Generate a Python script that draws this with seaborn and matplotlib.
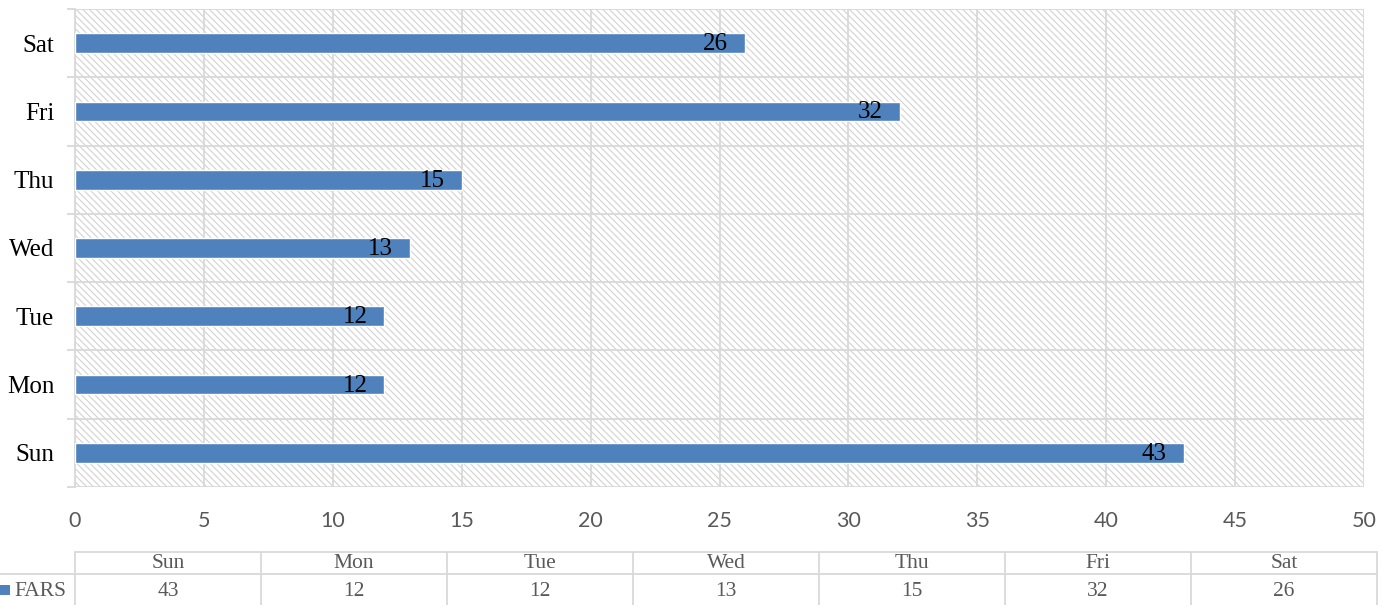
import matplotlib
matplotlib.use("Agg")
import matplotlib.pyplot as plt
from matplotlib.patches import Rectangle
from matplotlib.ticker import FixedLocator
import seaborn as sns
import pandas as pd

# data
days = ["Sun", "Mon", "Tue", "Wed", "Thu", "Fri", "Sat"]
fars = [43, 12, 12, 13, 15, 32, 26]
series_name = "FARS"
x_ticks = [0, 5, 10, 15, 20, 25, 30, 35, 40, 45, 50]

W, H = 1395, 605
bar_color = "#4F81BD"
grid_color = "#D9D9D9"

sns.set_style("white")
plt.rcParams["font.family"] = ["Liberation Serif", "DejaVu Serif"]
plt.rcParams["hatch.linewidth"] = 0.8

df = pd.DataFrame({"day": days, "count": fars})

fig = plt.figure(figsize=(W / 100, H / 100), dpi=100)
ax = fig.add_axes([75 / W, 1 - 487 / H, (1364 - 75) / W, (487 - 9) / H])

# hatched plot area background
bg = Rectangle((0, 0), 1, 1, transform=ax.transAxes, facecolor="white",
               edgecolor="#D2D2D2", hatch="\\" * 5, linewidth=0, zorder=0.1)
ax.add_patch(bg)

sns.barplot(data=df, x="count", y="day", order=days[::-1], orient="h",
            color=bar_color, width=0.29, saturation=1, ax=ax, zorder=3)

ax.set_xlim(0, 50)
ax.set_ylim(6.5, -0.5)
ax.set_xlabel("")
ax.set_ylabel("")

# gridlines
ax.set_xticks(x_ticks)
ax.yaxis.set_minor_locator(FixedLocator([i - 0.5 for i in range(len(days) + 1)]))
ax.grid(axis="x", which="major", color=grid_color, linewidth=1.3, zorder=1)
ax.grid(axis="y", which="minor", color=grid_color, linewidth=1.3, zorder=1)
ax.grid(axis="y", which="major", visible=False)
ax.set_axisbelow(True)
for s in ["top", "right", "bottom"]:
    ax.spines[s].set_visible(False)
ax.spines["left"].set_color(grid_color)
ax.spines["left"].set_linewidth(1.3)

ax.tick_params(axis="x", length=0, pad=17, labelsize=15.5, labelcolor="#595959")
for lab in ax.get_xticklabels():
    lab.set_family(["Lato", "DejaVu Sans"])
ax.tick_params(axis="y", which="major", left=False, length=0, pad=15,
               labelsize=18, labelcolor="black")
ax.tick_params(axis="y", which="minor", left=True, length=6, width=1.3,
               color=grid_color, direction="out")

# data labels inside end
for i, d in enumerate(days[::-1]):
    v = fars[days.index(d)]
    ax.annotate(str(v), xy=(v, i), xytext=(-17, -1), textcoords="offset pixels",
                ha="right", va="center", fontsize=18, color="black", zorder=5)

# data table below the chart
tax = fig.add_axes([75 / W, 0, (1377 - 75) / W, 53 / H])
tax.set_xlim(0, len(days))
tax.set_ylim(0, 53)
tax.axis("off")
lk = dict(color=grid_color, linewidth=1.3, clip_on=False)
tax.plot([0, len(days)], [53, 53], **lk)
tax.plot([-75 / 186, len(days)], [31, 31], **lk)
for i in range(len(days) + 1):
    tax.plot([i, i], [0, 53], **lk)
for i, (d, v) in enumerate(zip(days, fars)):
    tax.text(i + 0.5, 41, d, ha="center", va="center", fontsize=15.5, color="#595959")
    tax.text(i + 0.5, 13, str(v), ha="center", va="center", fontsize=15.5, color="#595959")
tax.add_patch(Rectangle((-75 / 186, 10), 10 / 186, 10, facecolor=bar_color,
                        edgecolor="none", clip_on=False))
tax.text(-61 / 186, 13, series_name, ha="left", va="center", fontsize=15.5, color="#595959")

fig.savefig("out.png", dpi=100)
